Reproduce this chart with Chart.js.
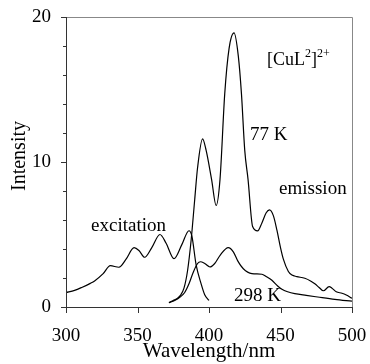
<!DOCTYPE html>
<html>
<head>
<meta charset="utf-8">
<script src="https://cdn.jsdelivr.net/npm/chart.js@4.4.0/dist/chart.umd.min.js"></script>
<style>
  html, body { margin: 0; padding: 0; background: #fff; }
</style>
</head>
<body>
<canvas id="spectra" width="370" height="364"></canvas>
<script>
// excitation spectrum (77 K)
const excWl = [300, 306, 311, 317, 320, 326, 331, 337, 342, 347.6, 351, 355, 360, 365.7, 370, 375.5, 381, 386, 388, 391, 394.5, 397, 400];
const excI  = [1.0, 1.15, 1.35, 1.63, 1.8, 2.3, 2.85, 2.74, 3.3, 4.09, 3.9, 3.43, 4.1, 5.0, 4.4, 3.33, 4.3, 5.26, 4.9, 2.9, 1.6, 0.85, 0.45];

// emission at 77 K
const em77Wl = [372, 375, 378, 380, 382.5, 385, 387.5, 390, 392, 395.5, 398, 401.8, 405, 407.7, 411, 414, 417.5, 420.5, 422.7, 425, 427.3, 430.5, 434, 437, 440, 442.3, 445, 447.5, 450, 452, 455.5, 458, 461.4, 467, 471, 474, 477, 480, 484, 486, 489, 493, 496, 500];
const em77I  = [0.3, 0.45, 0.6, 0.8, 1.3, 2.5, 4.6, 7.4, 9.6, 11.6, 10.8, 8.8, 7.0, 8.8, 14.7, 17.8, 18.9, 17.3, 14.7, 10.8, 8.8, 5.55, 5.25, 5.8, 6.5, 6.7, 6.3, 5.3, 4.1, 3.3, 2.45, 2.2, 2.1, 1.98, 1.8, 1.6, 1.35, 1.12, 1.4, 1.3, 1.05, 0.95, 0.83, 0.6];

// emission at 298 K
const em298Wl = [372, 376, 380, 383, 386, 389, 392, 394, 397, 400.7, 404, 408, 413.5, 417, 420, 424, 430, 437, 440, 444, 448, 451, 455, 460, 468, 476, 488, 500];
const em298I  = [0.3, 0.45, 0.7, 1.0, 1.6, 2.4, 3.0, 3.12, 3.0, 2.76, 3.0, 3.6, 4.09, 3.8, 3.2, 2.64, 2.3, 2.26, 2.1, 1.84, 1.45, 1.22, 1.05, 0.92, 0.8, 0.69, 0.53, 0.4];

const xTicks = [300, 350, 400, 450, 500];
const yTicks = [0, 10, 20];
const yMinor = [2, 4, 6, 8, 12, 14, 16, 18];

const serif = '"Liberation Serif", "Times New Roman", serif';

function pts(xs, ys) {
  return xs.map((x, i) => ({ x, y: ys[i] }));
}

function curve(xs, ys) {
  return {
    data: pts(xs, ys),
    borderColor: '#000',
    borderWidth: 1.2,
    pointRadius: 0,
    fill: false,
    cubicInterpolationMode: 'monotone'
  };
}

// box, tick marks and the text written on the plot
const decor = {
  id: 'decor',
  afterDraw(chart) {
    const { ctx, chartArea: a, scales: { x, y } } = chart;
    ctx.save();
    ctx.lineWidth = 1;
    ctx.strokeStyle = '#888';
    ctx.beginPath();
    ctx.moveTo(a.left, a.top + 0.5);
    ctx.lineTo(a.right + 0.5, a.top + 0.5);
    ctx.lineTo(a.right + 0.5, a.bottom);
    ctx.stroke();

    ctx.strokeStyle = '#333';
    ctx.beginPath();
    ctx.moveTo(a.left + 0.5, a.top);
    ctx.lineTo(a.left + 0.5, a.bottom + 0.5);
    ctx.lineTo(a.right + 0.5, a.bottom + 0.5);
    yTicks.forEach(v => {
      const py = Math.round(y.getPixelForValue(v)) + 0.5;
      ctx.moveTo(a.left - 5, py); ctx.lineTo(a.left, py);
    });
    yMinor.forEach(v => {
      const py = Math.round(y.getPixelForValue(v)) + 0.5;
      ctx.moveTo(a.left - 3, py); ctx.lineTo(a.left, py);
    });
    xTicks.forEach(v => {
      const px = Math.round(x.getPixelForValue(v)) + 0.5;
      ctx.moveTo(px, a.bottom); ctx.lineTo(px, a.bottom + 6);
    });
    ctx.stroke();

    ctx.fillStyle = '#000';
    ctx.textBaseline = 'alphabetic';
    ctx.textAlign = 'left';
    ctx.font = '19px ' + serif;
    const put = (s, wl, v) => ctx.fillText(s, x.getPixelForValue(wl), y.getPixelForValue(v));
    put('excitation', 317.5, 5.24);
    put('emission', 449, 7.8);
    put('77 K', 428.7, 11.5);
    put('298 K', 417.5, 0.41);

    // [CuL2]2+
    let px = x.getPixelForValue(440.6);
    const py = y.getPixelForValue(16.7);
    ctx.font = '18px ' + serif;
    ctx.fillText('[CuL', px, py); px += ctx.measureText('[CuL').width;
    ctx.font = '12px ' + serif;
    ctx.fillText('2', px, py - 8); px += ctx.measureText('2').width;
    ctx.font = '18px ' + serif;
    ctx.fillText(']', px, py); px += ctx.measureText(']').width;
    ctx.font = '12px ' + serif;
    ctx.fillText('2+', px, py - 8);

    // y axis title, drawn here so it can sit a little above the middle
    ctx.font = '20px ' + serif;
    ctx.textAlign = 'center';
    ctx.textBaseline = 'middle';
    ctx.translate(20, 156);
    ctx.rotate(-Math.PI / 2);
    ctx.fillText('Intensity', 0, 0);
    ctx.restore();
  }
};

new Chart(document.getElementById('spectra'), {
  type: 'line',
  data: {
    datasets: [curve(excWl, excI), curve(em77Wl, em77I), curve(em298Wl, em298I)]
  },
  options: {
    responsive: false,
    animation: false,
    devicePixelRatio: 1,
    layout: { padding: { top: 17, right: 18, left: 0, bottom: 0 } },
    plugins: { legend: { display: false }, tooltip: { enabled: false } },
    scales: {
      x: {
        type: 'linear',
        min: 300, max: 500,
        afterFit: s => { s.height = 57; s.paddingLeft = 0; s.paddingRight = 0; },
        afterBuildTicks: s => { s.ticks = xTicks.map(v => ({ value: v })); },
        grid: { display: false, drawTicks: false },
        border: { display: false },
        ticks: { color: '#000', padding: 18, font: { family: serif, size: 19 } },
        title: { display: true, text: 'Wavelength/nm', color: '#000', padding: { top: 1, bottom: 0 }, font: { family: serif, size: 21 } }
      },
      y: {
        type: 'linear',
        min: 0, max: 20,
        afterFit: s => { s.width = 66; s.paddingTop = 0; s.paddingBottom = 0; },
        afterBuildTicks: s => { s.ticks = yTicks.map(v => ({ value: v })); },
        grid: { display: false, drawTicks: false },
        border: { display: false },
        ticks: { color: '#000', padding: 15, font: { family: serif, size: 19 } },
        title: { display: false }
      }
    }
  },
  plugins: [decor]
});
</script>
</body>
</html>
